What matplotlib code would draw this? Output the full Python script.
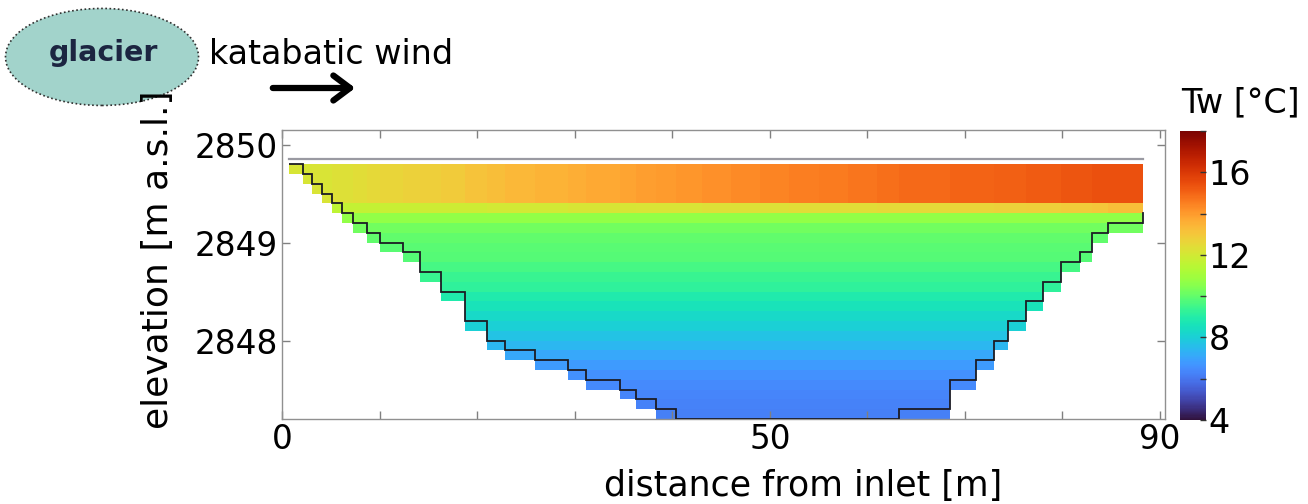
import numpy as np
import matplotlib
matplotlib.use("Agg")
import matplotlib.pyplot as plt
from matplotlib.patches import Ellipse, FancyArrowPatch

# ---------------- data ----------------
# column edges of the model grid [m from inlet]
col_edges = [0.75, 2.12, 3.04, 4.13, 5.09, 6.11, 7.31, 8.67, 10.04, 12.36, 14.14,
             16.26, 18.75, 20.97, 22.85, 25.92, 29.27, 31.15, 34.6, 36.3, 38.3,
             40.37, 43.0, 46.0, 49.0, 52.0, 55.0, 58.0, 61.0, 63.25, 68.44,
             71.11, 72.98, 74.42, 76.23, 78.0, 79.88, 81.83, 83.03, 84.67, 88.25]
# index of the lowest wet cell row in each column (rows counted from the top, 0.1 m each)
bed_row = [0, 1, 2, 3, 4, 5, 6, 7, 8, 9, 11, 13, 16, 18, 19, 20, 21, 22, 23, 24, 25,
           26, 26, 26, 26, 26, 26, 26, 26,
           25, 22, 20, 18, 16, 14, 12, 10, 9, 7, 6]
outline_end_row = 5
grid_top = 2849.8        # top of the uppermost cell row [m a.s.l.]
cell_dz = 0.1            # cell height [m]
n_rows = 26
water_surface = 2849.85

# surface layer (rows 0-3) temperature per column [degC]
T_surface = [12.1, 12.1, 12.2, 12.2, 12.3, 12.3, 12.4, 12.5, 12.6, 12.7,
             12.8, 12.9, 13.1, 13.2, 13.4, 13.5, 13.6, 13.7, 13.8, 13.9,
             14.0, 14.1, 14.2, 14.3, 14.4, 14.5, 14.6, 14.7, 14.8, 14.9,
             15.0, 15.0, 15.1, 15.1, 15.2, 15.2, 15.3, 15.3, 15.4, 15.4]
# row 4 temperature per column [degC]
T_row4 = [11.5, 11.5, 11.6, 11.6, 11.6, 11.7, 11.7, 11.7, 11.8, 11.8,
          11.9, 11.9, 11.9, 12.0, 12.0, 12.0, 12.1, 12.1, 12.1, 12.2,
          12.2, 12.2, 12.3, 12.3, 12.3, 12.4, 12.4, 12.4, 12.5, 12.5,
          12.6, 12.6, 12.7, 12.7, 12.8, 12.8, 12.9, 12.9, 13.0, 13.2]
# rows 5-25 temperature profile [degC]
T_profile = [10.7, 10.2, 10.0, 9.9, 9.8, 9.6, 9.4, 9.2, 8.9, 8.6, 8.3,
             8.0, 7.7, 7.4, 7.1, 6.8, 6.6, 6.45, 6.35, 6.25, 6.2]
n_surface_rows = 4

x_ticks_major = [0, 50, 90]
x_ticks_minor = [10, 20, 30, 40, 60, 70, 80]
y_ticks = [2848, 2849, 2850]
cb_ticks = [4, 8, 12, 16]
cb_minor = [6, 10, 14, 18]
vmin, vmax = 4, 18

# ---------------- field ----------------
n_cols = len(col_edges) - 1
z_edges = grid_top - cell_dz * np.arange(n_rows + 1)
T = np.full((n_rows, n_cols), np.nan)
for c in range(n_cols):
    for k in range(n_rows):
        if k > bed_row[c]:
            continue
        if k < n_surface_rows:
            T[k, c] = T_surface[c]
        elif k == n_surface_rows:
            T[k, c] = T_row4[c]
        else:
            T[k, c] = T_profile[k - n_surface_rows - 1]
T = np.ma.masked_invalid(T)

# ---------------- figure ----------------
plt.rcParams['font.family'] = ['DejaVu Sans']
W, H = 1308, 504
fig = plt.figure(figsize=(13.08, 5.04), dpi=100)
ax = fig.add_axes([0.2156, 0.1687, 0.675, 0.5734])
cax = fig.add_axes([0.902, 0.1667, 0.0199, 0.5734])

mesh = ax.pcolormesh(col_edges, z_edges, T, cmap='turbo', vmin=vmin, vmax=vmax,
                     shading='flat')

# bed outline
line_z = [grid_top - cell_dz * k for k in bed_row]
ax.stairs(line_z, col_edges, baseline=None, color='#1c1c24', lw=1.3, zorder=3)
ax.plot([col_edges[-1], col_edges[-1]],
        [line_z[-1], grid_top - cell_dz * outline_end_row],
        color='#1c1c24', lw=1.3, zorder=3)
# water surface
ax.plot([col_edges[0], col_edges[-1]], [water_surface, water_surface],
        color='#9a9aa2', lw=1.6, zorder=3)

ax.set_xlim(0, 90.5)
ax.set_ylim(2847.2, 2850.15)
ax.set_xticks(x_ticks_major)
ax.set_xticks(x_ticks_minor, minor=True)
ax.set_yticks(y_ticks)
ax.set_xticklabels([str(v) for v in x_ticks_major])
ax.set_yticklabels([str(v) for v in y_ticks])
ax.tick_params(which='both', direction='in', top=True, right=True,
               color='#808080', length=6, width=1, labelsize=23.5, pad=3)
for s in ax.spines.values():
    s.set_color('#909090')
    s.set_linewidth(1.0)

fig.text(803 / W, 1 - 486 / H, 'distance from inlet [m]', fontsize=25,
         ha='center', va='center')
fig.text(158 / W, 1 - 260 / H, 'elevation [m a.s.l.]', fontsize=26,
         ha='center', va='center', rotation=90)

cb = fig.colorbar(mesh, cax=cax)
cb.set_ticks(cb_ticks)
cb.set_ticklabels([str(v) for v in cb_ticks])
cax.set_yticks(cb_minor, minor=True)
cax.tick_params(which='both', direction='in', length=4, width=1,
                color='#333333', labelsize=24, pad=2)
cb.outline.set_visible(False)

fig.text(1240 / W, 1 - 103 / H, 'Tw [°C]', fontsize=24, ha='center', va='center')

# annotations
ell = Ellipse((0.078, 0.887), 0.1476, 0.1925, transform=fig.transFigure,
              facecolor='#a2d3cb', edgecolor='#303030', lw=1.2,
              linestyle=(0, (1, 1.5)))
fig.add_artist(ell)
fig.text(0.079, 0.895, 'glacier', fontsize=20.5, fontweight='bold',
         color='#1c2541', ha='center', va='center')
fig.text(0.160, 0.891, 'katabatic wind', fontsize=24, ha='left', va='center')
arr = FancyArrowPatch((270 / W, 1 - 88 / H), (358 / W, 1 - 88 / H),
                      transform=fig.transFigure,
                      arrowstyle='->,head_length=0.6,head_width=0.45',
                      mutation_scale=20, lw=4.5, color='black')
fig.add_artist(arr)

fig.savefig('out.png', dpi=100)
